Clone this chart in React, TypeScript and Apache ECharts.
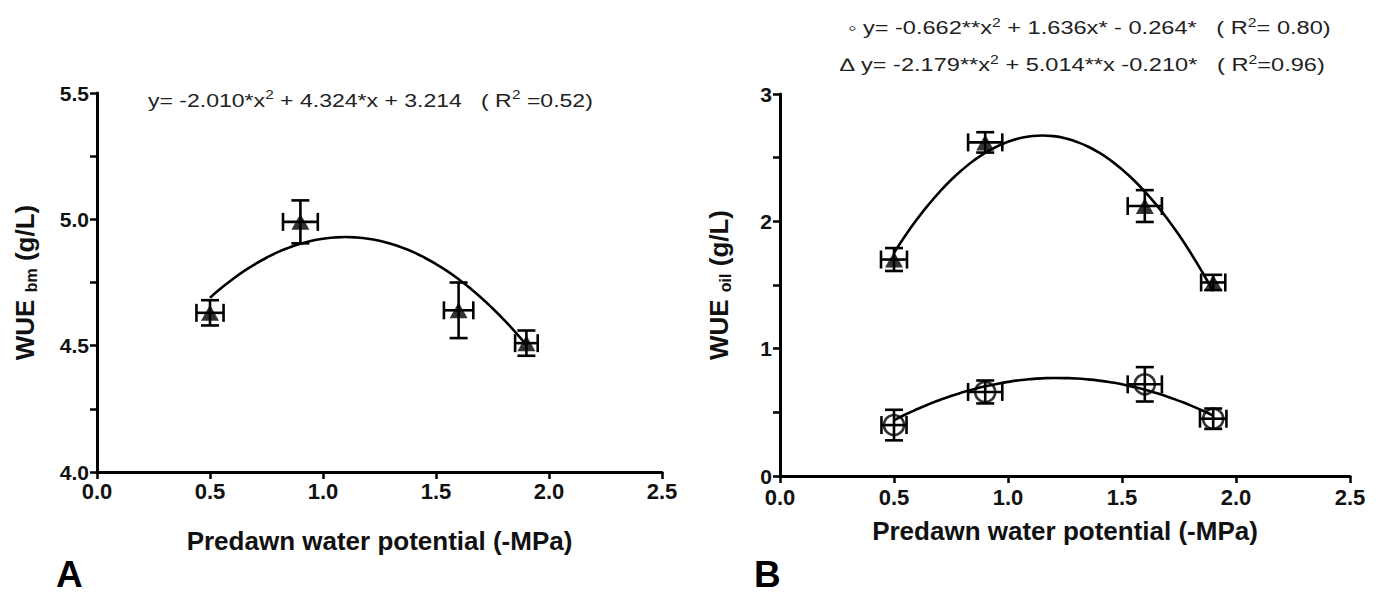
import React, { useEffect, useRef } from "react";
import * as echarts from "echarts";

// ---- Data ----
// Panel A (WUE bm)
const xA = [0.5, 0.9, 1.6, 1.9];
const yA = [4.63, 4.99, 4.64, 4.51];
const xErrA = [0.06, 0.077, 0.065, 0.05];
const yErrA = [0.05, 0.085, 0.11, 0.05];

// Panel B (WUE oil) – triangles
const xB = [0.5, 0.9, 1.6, 1.9];
const yBTri = [1.70, 2.62, 2.12, 1.52];
const xErrBTri = [0.057, 0.075, 0.075, 0.053];
const yErrBTri = [0.09, 0.08, 0.125, 0.06];
// Panel B – circles
const yBCirc = [0.40, 0.66, 0.72, 0.45];
const xErrBCirc = [0.055, 0.075, 0.075, 0.058];
const yErrBCirc = [0.12, 0.09, 0.135, 0.08];

const curveX = [
  0.5, 0.55, 0.6, 0.65, 0.7, 0.75, 0.8, 0.85, 0.9, 0.95, 1.0, 1.05, 1.1, 1.15, 1.2,
  1.25, 1.3, 1.35, 1.4, 1.45, 1.5, 1.55, 1.6, 1.65, 1.7, 1.75, 1.8, 1.85, 1.9,
];
const curveA = [
  4.690, 4.728, 4.763, 4.795, 4.823, 4.848, 4.870, 4.888, 4.903, 4.915, 4.923, 4.928, 4.930, 4.928, 4.923,
  4.915, 4.903, 4.888, 4.870, 4.848, 4.823, 4.795, 4.763, 4.728, 4.690, 4.648, 4.603, 4.555, 4.503,
];
const curveBTri = [
  1.752, 1.889, 2.014, 2.128, 2.232, 2.325, 2.406, 2.478, 2.538, 2.586, 2.625, 2.653, 2.668, 2.674, 2.669,
  2.653, 2.625, 2.588, 2.539, 2.479, 2.408, 2.327, 2.234, 2.131, 2.017, 1.892, 1.755, 1.608, 1.451,
];
const curveBCirc = [
  0.438, 0.483, 0.524, 0.562, 0.597, 0.629, 0.657, 0.682, 0.704, 0.723, 0.739, 0.752, 0.761, 0.767, 0.770,
  0.769, 0.766, 0.759, 0.749, 0.736, 0.720, 0.700, 0.678, 0.652, 0.623, 0.590, 0.555, 0.516, 0.474,
];

// Texts
const eqA = "y= -2.010*x{sup|2} + 4.324*x + 3.214   ( R{sup|2} =0.52)";
const eqBCirc = "\u25E6 y= -0.662**x{sup|2} + 1.636x* - 0.264*   ( R{sup|2}= 0.80)";
const eqBTri = "\u2206 y= -2.179**x{sup|2} + 5.014**x -0.210*   ( R{sup|2}=0.96)";
const xTitle = "Predawn water potential (-MPa)";
const yTitleA = "WUE {sub|bm} (g/L)";
const yTitleB = "WUE {sub|oil} (g/L)";

const FONT = '"Liberation Sans", Arial, sans-serif';

function errRows(xs: number[], ys: number[], ex: number[], ey: number[]) {
  return xs.map((x, i) => [x, ys[i], ex[i], ey[i]]);
}

function errorSeries(data: number[][], idx: number) {
  return {
    type: "custom",
    xAxisIndex: idx,
    yAxisIndex: idx,
    coordinateSystem: "cartesian2d",
    encode: { x: 0, y: 1 },
    z: 3,
    data,
    renderItem: (params: any, api: any) => {
      const x = api.value(0);
      const y = api.value(1);
      const ex = api.value(2);
      const ey = api.value(3);
      const l = api.coord([x - ex, y]);
      const r = api.coord([x + ex, y]);
      const t = api.coord([x, y + ey]);
      const b = api.coord([x, y - ey]);
      const c = 9;
      const style = { stroke: "#000", lineWidth: 2.6, fill: null };
      const ln = (x1: number, y1: number, x2: number, y2: number) => ({
        type: "line",
        shape: { x1, y1, x2, y2 },
        style,
      });
      return {
        type: "group",
        children: [
          ln(l[0], l[1], r[0], r[1]),
          ln(l[0], l[1] - c, l[0], l[1] + c),
          ln(r[0], r[1] - c, r[0], r[1] + c),
          ln(t[0], t[1], b[0], b[1]),
          ln(t[0] - c, t[1], t[0] + c, t[1]),
          ln(b[0] - c, b[1], b[0] + c, b[1]),
        ],
      };
    },
  };
}

function xAxisCfg(idx: number, gap: number, labelMargin: number) {
  return {
    type: "value",
    gridIndex: idx,
    min: 0,
    max: 2.5,
    interval: 0.5,
    name: xTitle,
    nameLocation: "middle",
    nameGap: gap,
    nameTextStyle: { fontSize: 26, fontWeight: "bold", color: "#111", fontFamily: FONT },
    axisLine: { show: true, onZero: false, lineStyle: { color: "#000", width: 3 } },
    axisTick: { show: true, length: 7, lineStyle: { color: "#000", width: 2.5 } },
    axisLabel: {
      fontSize: 22,
      fontWeight: "bold",
      color: "#111",
      fontFamily: FONT,
      margin: labelMargin,
      formatter: (v: number) => v.toFixed(1),
    },
    splitLine: { show: false },
  };
}

function yAxisCfg(idx: number, min: number, max: number, interval: number, name: string, gap: number, digits: number) {
  return {
    type: "value",
    gridIndex: idx,
    min,
    max,
    interval,
    name,
    nameLocation: "middle",
    nameGap: gap,
    nameTextStyle: {
      fontSize: 26,
      fontWeight: "bold",
      color: "#111",
      fontFamily: FONT,
      rich: {
        sub: { fontSize: 16, fontWeight: "bold", color: "#111", fontFamily: FONT, padding: [12, 0, 0, 0] },
      },
    },
    axisLine: { show: true, onZero: false, lineStyle: { color: "#000", width: 3 } },
    axisTick: { show: true, length: 7, lineStyle: { color: "#000", width: 2.5 } },
    minorTick: { show: true, splitNumber: 2, length: 7, lineStyle: { color: "#000", width: 2.5 } },
    axisLabel: {
      fontSize: 21,
      fontWeight: "bold",
      color: "#111",
      fontFamily: FONT,
      margin: 8,
      formatter: (v: number) => v.toFixed(digits),
    },
    splitLine: { show: false },
    minorSplitLine: { show: false },
  };
}

function curveSeries(ys: number[], idx: number) {
  return {
    type: "line",
    xAxisIndex: idx,
    yAxisIndex: idx,
    data: curveX.map((x, i) => [x, ys[i]]),
    smooth: true,
    symbol: "none",
    z: 2,
    lineStyle: { color: "#000", width: 2.6 },
  };
}

function eqText(text: string, x: number, y: number, scaleX: number) {
  return {
    type: "text",
    x,
    y,
    scaleX,
    style: {
      text,
      fontSize: 18,
      fontFamily: FONT,
      fill: "#222",
      verticalAlign: "middle",
      align: "left",
      rich: {
        sup: { fontSize: 12, fontFamily: FONT, fill: "#222", padding: [0, 0, 10, 0] },
      },
    },
  };
}

export default function App() {
  const ref = useRef<HTMLDivElement>(null);

  useEffect(() => {
    if (!ref.current) return;
    const chart = echarts.init(ref.current, null, { renderer: "svg" });
    const option: any = {
      animation: false,
      backgroundColor: "#fff",
      grid: [
        { left: 97, top: 93, width: 565, height: 379 },
        { left: 780, top: 94, width: 570, height: 382 },
      ],
      xAxis: [xAxisCfg(0, 56, 8), xAxisCfg(1, 42, 10)],
      yAxis: [
        yAxisCfg(0, 4.0, 5.5, 0.5, yTitleA, 58, 1),
        yAxisCfg(1, 0, 3, 1, yTitleB, 47, 0),
      ],
      series: [
        curveSeries(curveA, 0),
        errorSeries(errRows(xA, yA, xErrA, yErrA), 0),
        {
          type: "scatter",
          xAxisIndex: 0,
          yAxisIndex: 0,
          data: xA.map((x, i) => [x, yA[i]]),
          symbol: "triangle",
          symbolSize: [18, 16],
          z: 4,
          itemStyle: { color: "#000" },
        },
        curveSeries(curveBTri, 1),
        curveSeries(curveBCirc, 1),
        errorSeries(errRows(xB, yBTri, xErrBTri, yErrBTri), 1),
        errorSeries(errRows(xB, yBCirc, xErrBCirc, yErrBCirc), 1),
        {
          type: "scatter",
          xAxisIndex: 1,
          yAxisIndex: 1,
          data: xB.map((x, i) => [x, yBTri[i]]),
          symbol: "triangle",
          symbolSize: [18, 16],
          z: 4,
          itemStyle: { color: "#000" },
        },
        {
          type: "scatter",
          xAxisIndex: 1,
          yAxisIndex: 1,
          data: xB.map((x, i) => [x, yBCirc[i]]),
          symbol: "circle",
          symbolSize: 20,
          z: 4,
          itemStyle: { color: "rgba(255,255,255,0)", borderColor: "#000", borderWidth: 2.6 },
        },
      ],
      graphic: [
        eqText(eqA, 148, 100, 1.28),
        eqText(eqBCirc, 848, 28, 1.31),
        eqText(eqBTri, 840, 65, 1.31),
        {
          type: "text",
          x: 56,
          y: 574,
          style: { text: "A", fontSize: 37, fontWeight: "bold", fontFamily: FONT, fill: "#000", verticalAlign: "middle" },
        },
        {
          type: "text",
          x: 754,
          y: 574,
          style: { text: "B", fontSize: 37, fontWeight: "bold", fontFamily: FONT, fill: "#000", verticalAlign: "middle" },
        },
      ],
    };
    chart.setOption(option);
    return () => chart.dispose();
  }, []);

  return (
    <div
      ref={ref}
      style={{ position: "fixed", left: 0, top: 0, width: 1380, height: 594, background: "#fff" }}
    />
  );
}
